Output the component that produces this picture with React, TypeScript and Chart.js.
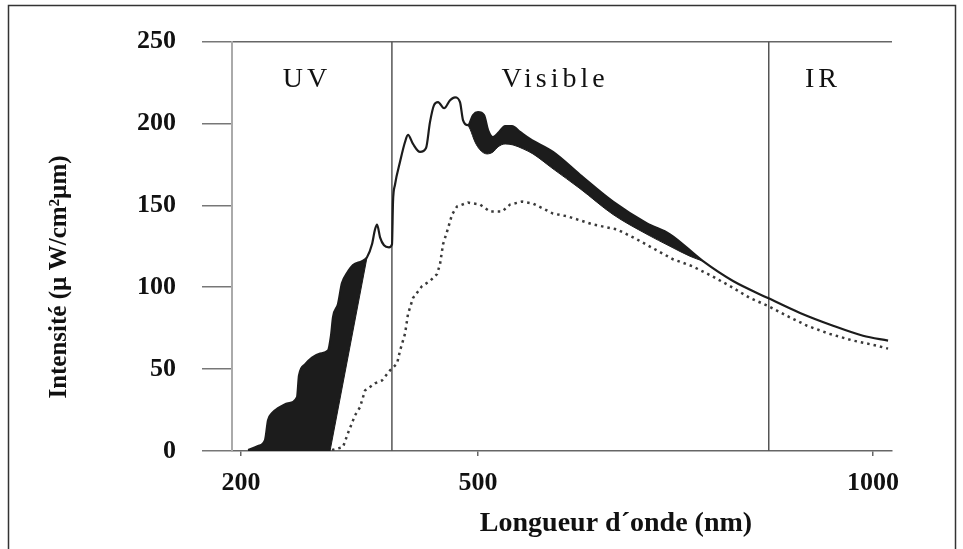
import React, { useEffect, useRef } from 'react';
import { Chart, registerables } from 'chart.js';

Chart.register(...registerables);

// Upper (solid) spectrum curve
const solidWl = [209, 221.5, 230.4, 234.2, 239.2, 246.8, 259.5, 270.9, 273.4, 281, 289.9, 300, 310.1, 313.9, 316.5, 322.8, 327.8, 334.2, 341.8, 353.2, 359.5, 365.8, 369.6, 372.2, 376, 381, 387.3, 391.1, 392.4, 394.9, 401.3, 407.6, 411.4, 417.7, 426.6, 434.2, 439.2, 444.3, 449.4, 457, 464.6, 470.9, 477.2, 481, 487.3, 493.7, 500, 507.6, 512.7, 519, 526.6, 534.2, 543, 553.2, 565.8, 594.9, 629.1, 670.9, 713.9, 743, 784.8, 822.8, 867.1, 907.6, 949.4, 987.3, 1019];
const solidVal = [0.6, 3, 6.7, 18.8, 23.1, 26.1, 29.1, 32.8, 46.1, 52.8, 57, 59.5, 61.3, 70.4, 81.9, 89.8, 102.5, 108.6, 113.5, 115.9, 118.3, 126.2, 135.3, 138.3, 130.5, 125.6, 124.4, 126.2, 152.3, 162.6, 176.6, 188.7, 193, 187.5, 182.6, 185, 200.8, 211.2, 213, 209.3, 214.2, 216, 213, 202.1, 199, 205.1, 206.9, 205.1, 196, 191.7, 194.8, 198.4, 198.4, 194.8, 190.5, 182.6, 168.7, 152.3, 139, 132.3, 115.9, 103.8, 93.4, 84.3, 76.5, 70.4, 67.4];

// Lower edge of the black UV region
const uvLowerWl = [209, 312.7, 359.5];
const uvLowerVal = [0, 0, 118.3];

// Lower edge of the black band in the visible
const bandLowerWl = [487.3, 489.9, 496.2, 502.5, 511.4, 519, 525.3, 534.2, 544.3, 557, 569.6, 594.9, 629.1, 670.9, 713.9, 743, 768.4, 784.8];
const bandLowerVal = [199, 196.6, 188.7, 183.9, 181.4, 182.6, 185.7, 187.5, 186.9, 184.5, 181.4, 172.3, 160.2, 144.4, 132.3, 125, 118.9, 115.9];

// Dotted spectrum curve
const dottedWl = [315.2, 329.1, 335.4, 344.3, 350.6, 357, 369.6, 378.5, 388.6, 397.5, 401.3, 407.6, 411.4, 417.7, 429.1, 439.2, 448.1, 451.9, 455.7, 462, 467.1, 473.4, 487.3, 502.5, 515.2, 530.4, 540.5, 555.7, 569.6, 582.3, 594.9, 613.9, 645.6, 676, 701.3, 721.5, 746.8, 770.9, 796.2, 819, 844.3, 867.1, 891.1, 916.5, 944.3, 975, 1005.1, 1019];
const dottedVal = [0.6, 2.4, 10.9, 21.8, 26.7, 37, 41.3, 43.1, 49.2, 53.4, 61.3, 71.6, 83.7, 93.4, 100.7, 103.8, 108, 114.1, 126.2, 135.9, 144.4, 149.3, 151.7, 150.5, 146.2, 146.2, 150.5, 152.3, 151.1, 148.1, 145, 143.2, 138.3, 135.3, 129.2, 123.8, 117.1, 112.9, 106.8, 100.7, 93.4, 88.6, 82.5, 76.5, 71.6, 67.4, 64.3, 62.5];

// Region boundaries and labels
const regionBounds = [391, 868];
const regionNames = ['UV', 'Visible', 'IR'];
const regionLabelWl = [281, 595, 934];
const regionLabelLevel = 227;

const xTicks = [200, 500, 1000];
const yTicks = [0, 50, 100, 150, 200, 250];

const xTitle = 'Longueur d´onde (nm)';
const yTitle = 'Intensité (µ W/cm²µm)';

const zip = (xs: number[], ys: number[]) => xs.map((x, i) => ({ x, y: ys[i] }));

const SERIF = '"Liberation Serif", "Times New Roman", serif';

const overlay = {
  id: 'overlay',
  afterDraw(chart: any) {
    const { ctx } = chart;
    const xs = chart.scales.x;
    const ys = chart.scales.y;
    ctx.save();
    ctx.fillStyle = '#111';
    ctx.font = `28px ${SERIF}`;
    (ctx as any).letterSpacing = '4px';
    ctx.textAlign = 'center';
    ctx.textBaseline = 'middle';
    regionNames.forEach((n, i) => {
      ctx.fillText(n, xs.getPixelForValue(regionLabelWl[i]) + 2, ys.getPixelForValue(regionLabelLevel));
    });
    (ctx as any).letterSpacing = '0px';
    ctx.fillStyle = '#111';
    ctx.font = `bold 28px ${SERIF}`;
    ctx.fillText(xTitle, 616, 524);
    ctx.translate(60, 277);
    ctx.rotate(-Math.PI / 2);
    ctx.font = `bold 25px ${SERIF}`;
    ctx.fillText(yTitle, 0, 0);
    ctx.restore();
    ctx.save();
    ctx.strokeStyle = '#333';
    ctx.lineWidth = 1.5;
    ctx.strokeRect(8.5, 5.5, 947, 570);
    ctx.restore();
  },
};

export default function App() {
  const ref = useRef<HTMLCanvasElement | null>(null);
  useEffect(() => {
    if (!ref.current) return;
    const dark = '#1c1c1c';
    const chart = new Chart(ref.current, {
      type: 'line',
      data: {
        datasets: [
          { data: zip(solidWl, solidVal), borderColor: dark, borderWidth: 2.2, cubicInterpolationMode: 'monotone', fill: false, pointRadius: 0 },
          { data: zip(uvLowerWl, uvLowerVal), borderColor: dark, borderWidth: 1, fill: { target: 0 }, backgroundColor: dark, pointRadius: 0 },
          { data: zip(bandLowerWl, bandLowerVal), borderColor: dark, borderWidth: 1, cubicInterpolationMode: 'monotone', fill: { target: 0 }, backgroundColor: dark, pointRadius: 0 },
          { data: zip(dottedWl, dottedVal), borderColor: '#3a3a3a', borderWidth: 2.5, borderDash: [2.5, 4], fill: false, pointRadius: 0 },
          { data: [{ x: regionBounds[0], y: 0 }, { x: regionBounds[0], y: 250 }], borderColor: '#555', borderWidth: 1.5, fill: false, pointRadius: 0 },
          { data: [{ x: regionBounds[1], y: 0 }, { x: regionBounds[1], y: 250 }], borderColor: '#555', borderWidth: 1.5, fill: false, pointRadius: 0 },
        ] as any,
      },
      options: {
        responsive: false,
        animation: false,
        layout: { padding: { top: 39, right: 71, left: 0, bottom: 0 } },
        plugins: { legend: { display: false }, tooltip: { enabled: false } },
        elements: { point: { radius: 0 } },
        scales: {
          x: {
            type: 'linear',
            min: 188.6,
            max: 1024,
            afterFit: (s: any) => { s.height = 98; },
            afterBuildTicks: (s: any) => { s.ticks = xTicks.map((v) => ({ value: v })); },
            grid: { drawOnChartArea: false, tickLength: 5, tickColor: '#666', lineWidth: 1.5 },
            border: { color: '#666', width: 1.5 },
            ticks: {
              font: { family: SERIF, size: 26, weight: 'bold' },
              color: '#111',
              padding: 12,
              maxRotation: 0,
              autoSkip: false,
              callback: (v: any) => String(v),
            },
          },
          y: {
            type: 'linear',
            min: 0,
            max: 250,
            afterFit: (s: any) => { s.width = 232; },
            afterBuildTicks: (s: any) => { s.ticks = yTicks.map((v) => ({ value: v })); },
            grid: {
              color: (c: any) => (c.tick && c.tick.value === 250 ? '#666' : 'rgba(0,0,0,0)'),
              tickColor: '#777',
              tickLength: 30,
              lineWidth: 1.5,
            },
            border: { color: '#aaa', width: 2 },
            ticks: { font: { family: SERIF, size: 26, weight: 'bold' }, color: '#111', padding: 26, callback: (v: any) => String(v) },
          },
        },
      } as any,
      plugins: [overlay],
    });
    return () => chart.destroy();
  }, []);
  return (
    <div style={{ position: 'fixed', left: 0, top: 0, width: 963, height: 549, background: '#fff' }}>
      <canvas ref={ref} width={963} height={549} style={{ width: 963, height: 549, display: 'block' }} />
    </div>
  );
}
